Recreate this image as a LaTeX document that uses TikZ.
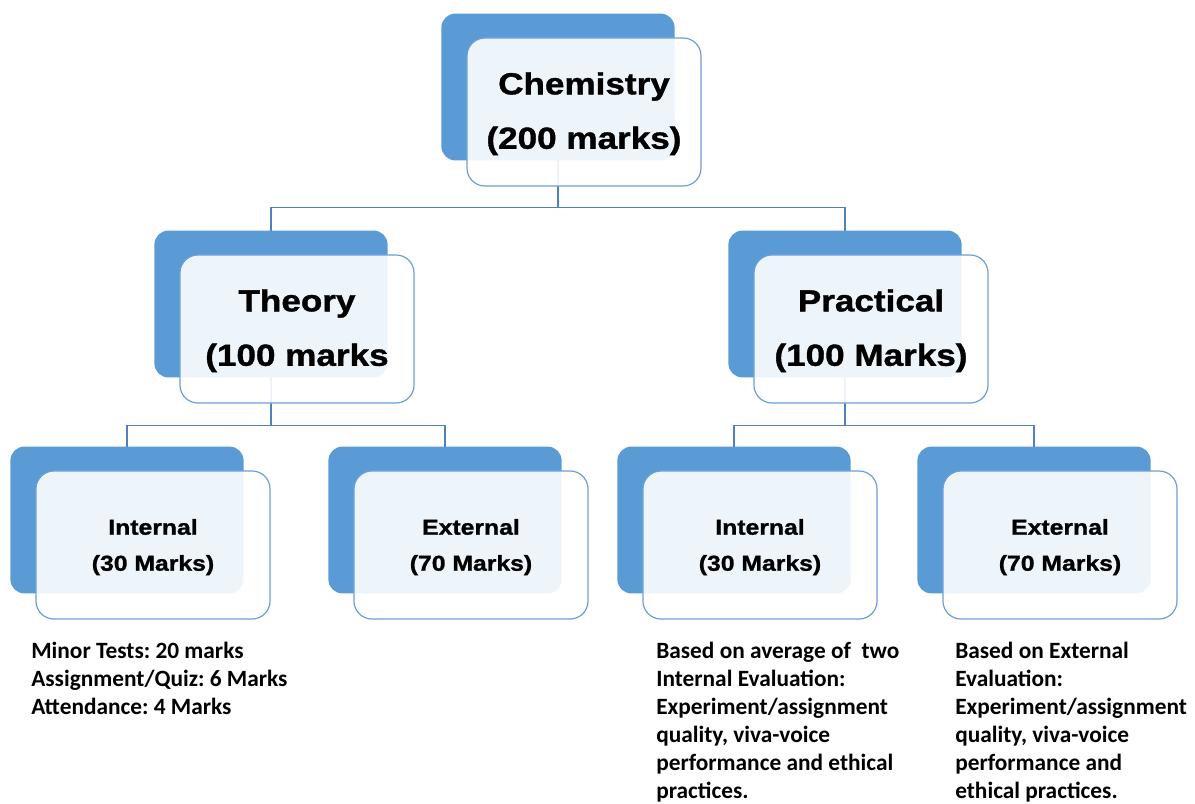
\documentclass[tikz,border=0pt]{standalone}
\usepackage{fontspec}
\setmainfont{Liberation Sans}
\newfontfamily\headfont{Liberation Sans}[FakeStretch=1.15, BoldFeatures={FakeBold=1.2}]
\newfontfamily\notefont{Carlito}
\definecolor{backblue}{HTML}{5B9BD5}
\definecolor{edgeblue}{HTML}{6C9FD6}
\definecolor{linkblue}{HTML}{4F81BD}
\frenchspacing
\begin{document}
\begin{tikzpicture}[x=0.025cm, y=-0.025cm,
	back/.style={fill=backblue, rounded corners=0.35cm, minimum width=5.83cm, minimum height=3.67cm, inner sep=0pt, outer sep=0pt},
	front/.style={draw=edgeblue, line width=0.85pt, fill=white, fill opacity=0.9, rounded corners=0.45cm, minimum width=5.85cm, minimum height=3.7cm, inner sep=0pt},
	bigtext/.style={font=\headfont\bfseries\fontsize{21.7}{38.7}\selectfont, align=center, inner sep=0pt},
	smalltext/.style={font=\headfont\bfseries\fontsize{15.3}{25.6}\selectfont, align=center, inner sep=0pt},
	link/.style={draw=linkblue, line width=1pt},
	note/.style={font=\notefont\bfseries\fontsize{16.6}{19.9}\selectfont, align=left, anchor=north west, inner sep=0pt}]

	\useasboundingbox (0,0) rectangle (1195,803);

	\node[back] (chem) at (558,87) {};
	\node[back] (theory) at (271,304) {};
	\node[back] (practical) at (845,304) {};
	\node[back] (thint) at (127,520) {};
	\node[back] (thext) at (445,520) {};
	\node[back] (print) at (734,520) {};
	\node[back] (prext) at (1034,520) {};

	\draw[link] (chem.south) -- ++(0,47) coordinate (chembus);
	\draw[link] (theory.north) |- (chembus) -| (practical.north);
	\draw[link] (theory.south) -- ++(0,48) coordinate (theorybus);
	\draw[link] (thint.north) |- (theorybus) -| (thext.north);
	\draw[link] (practical.south) -- ++(0,48) coordinate (practicalbus);
	\draw[link] (print.north) |- (practicalbus) -| (prext.north);

	\node[front] (chemF) at ([shift={(26,25)}]chem.center) {};
	\node[front] (theoryF) at ([shift={(26,25)}]theory.center) {};
	\node[front] (practicalF) at ([shift={(26,25)}]practical.center) {};
	\node[front] (thintF) at ([shift={(26,25)}]thint.center) {};
	\node[front] (thextF) at ([shift={(26,25)}]thext.center) {};
	\node[front] (printF) at ([shift={(26,25)}]print.center) {};
	\node[front] (prextF) at ([shift={(26,25)}]prext.center) {};

	\node[bigtext] (chemT) at ([yshift=-1.2pt]chemF.center) {Chemistry\\(200 marks)};
	\node[bigtext] (theoryT) at ([yshift=-1.2pt]theoryF.center) {Theory\\(100 marks};
	\node[bigtext] (practicalT) at ([yshift=-1.2pt]practicalF.center) {Practical\\(100 Marks)};
	\node[smalltext] (thintT) at ([yshift=-1.5pt]thintF.center) {Internal\\(30 Marks)};
	\node[smalltext] (thextT) at ([yshift=-1.5pt]thextF.center) {External\\(70 Marks)};
	\node[smalltext] (printT) at ([yshift=-1.5pt]printF.center) {Internal\\(30 Marks)};
	\node[smalltext] (prextT) at ([yshift=-1.5pt]prextF.center) {External\\(70 Marks)};

	\node[note] (thintnote) at (31,642) {Minor Tests: 20 marks\\Assignment/Quiz: 6 Marks\\Attendance: 4 Marks};
	\node[note] (printnote) at (656,642) {Based on average of \ two\\Internal Evaluation:\\Experiment/assignment\\quality, viva-voice\\performance and ethical\\practices.};
	\node[note] (prextnote) at (955,642) {Based on External\\Evaluation:\\Experiment/assignment\\quality, viva-voice\\performance and\\ethical practices.};
\end{tikzpicture}
\end{document}
